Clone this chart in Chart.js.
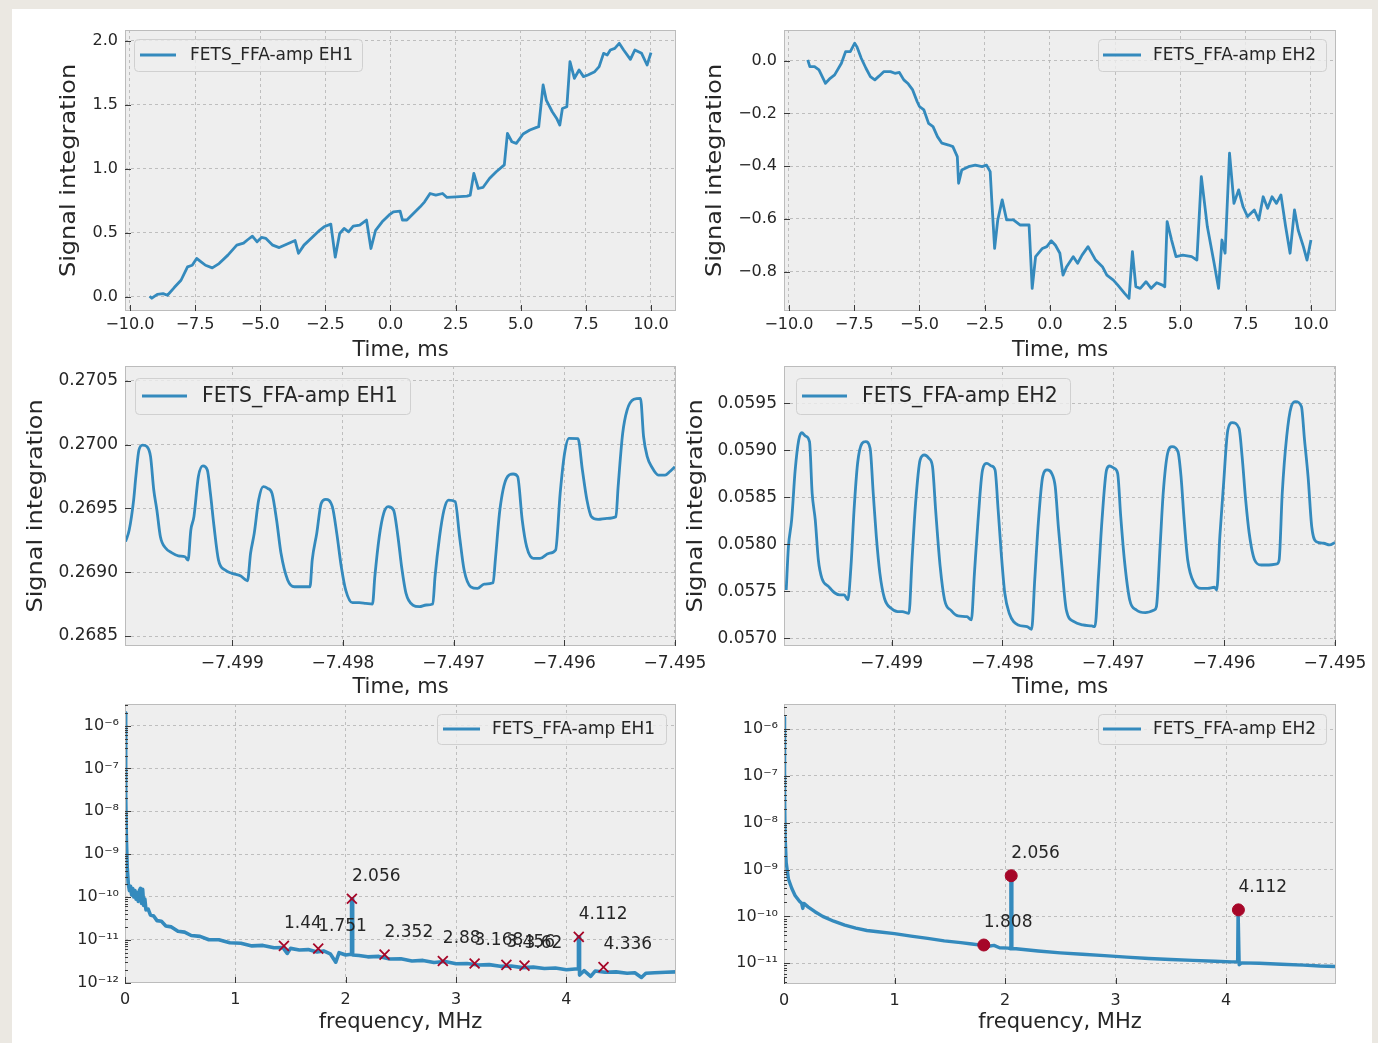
<!DOCTYPE html>
<html><head><meta charset="utf-8">
<script src="https://cdn.jsdelivr.net/npm/chart.js@4.4.1/dist/chart.umd.min.js"></script>
<style>
html,body{margin:0;padding:0;}
body{width:1378px;height:1043px;background:#ebe8e2;position:relative;overflow:hidden;}
#card{position:absolute;left:12px;top:9px;width:1360px;height:1040px;background:#ffffff;}
canvas{position:absolute;}
</style></head>
<body><div id="card"></div>
<canvas id="tl"></canvas><canvas id="tr"></canvas>
<canvas id="ml"></canvas><canvas id="mr"></canvas>
<canvas id="bl"></canvas><canvas id="br"></canvas>
<script>
// ---------------- DATA ----------------
const SERIES_EH1 = 'FETS_FFA-amp EH1';
const SERIES_EH2 = 'FETS_FFA-amp EH2';

// Top-left: integration, EH1 (time ms, signal)
const TL_TIME = [-9.245,-9.16,-8.95,-8.73,-8.56,-8.30,-8.04,-7.79,-7.61,-7.44,-7.27,-7.10,-6.84,-6.58,-6.24,-5.90,-5.64,-5.47,-5.30,-5.12,-4.95,-4.78,-4.52,-4.27,-3.92,-3.66,-3.53,-3.32,-2.98,-2.72,-2.55,-2.29,-2.12,-1.95,-1.78,-1.61,-1.43,-1.18,-0.92,-0.75,-0.57,-0.32,-0.06,0.11,0.37,0.46,0.63,0.88,1.14,1.31,1.52,1.74,2.00,2.17,2.52,2.94,3.06,3.20,3.37,3.55,3.80,4.06,4.37,4.49,4.66,4.83,5.09,5.35,5.61,5.69,5.86,5.98,6.21,6.38,6.50,6.60,6.77,6.89,7.06,7.24,7.41,7.58,7.84,8.01,8.18,8.32,8.44,8.61,8.78,8.95,9.21,9.38,9.64,9.85,10.0];
const TL_SIGNAL = [0.005,-0.01,0.02,0.026,0.013,0.073,0.13,0.234,0.247,0.30,0.273,0.247,0.227,0.26,0.326,0.404,0.42,0.448,0.474,0.43,0.464,0.456,0.404,0.385,0.417,0.44,0.34,0.404,0.469,0.52,0.547,0.568,0.31,0.495,0.534,0.508,0.552,0.56,0.60,0.378,0.52,0.586,0.638,0.664,0.669,0.60,0.60,0.651,0.703,0.742,0.807,0.794,0.807,0.776,0.78,0.786,0.794,0.964,0.846,0.854,0.924,0.977,1.03,1.276,1.211,1.198,1.271,1.302,1.323,1.328,1.654,1.536,1.445,1.393,1.341,1.47,1.484,1.836,1.706,1.771,1.719,1.732,1.758,1.797,1.901,1.888,1.927,1.94,1.979,1.927,1.854,1.927,1.901,1.81,1.906];

// Top-right: integration, EH2
const TR_TIME = [-9.28,-9.20,-9.02,-8.85,-8.60,-8.42,-8.25,-7.99,-7.83,-7.65,-7.48,-7.40,-7.23,-7.05,-6.88,-6.71,-6.54,-6.37,-6.11,-5.94,-5.77,-5.60,-5.43,-5.26,-5.09,-5.00,-4.83,-4.65,-4.48,-4.31,-4.14,-3.88,-3.72,-3.55,-3.50,-3.38,-3.12,-2.86,-2.60,-2.43,-2.29,-2.23,-2.12,-2.00,-1.83,-1.66,-1.40,-1.15,-0.80,-0.68,-0.55,-0.29,-0.12,0.05,0.21,0.38,0.50,0.64,0.89,1.06,1.23,1.46,1.75,2.01,2.18,2.43,2.60,2.86,3.03,3.16,3.29,3.46,3.68,3.88,4.09,4.31,4.40,4.49,4.66,4.83,5.09,5.43,5.63,5.80,6.03,6.28,6.46,6.59,6.71,6.88,7.05,7.23,7.40,7.57,7.83,8.00,8.17,8.34,8.51,8.68,8.85,9.03,9.20,9.37,9.51,9.71,9.85,10.0];
const TR_SIGNAL = [0.003,-0.023,-0.023,-0.035,-0.086,-0.067,-0.054,-0.01,0.034,0.034,0.066,0.053,0.009,-0.029,-0.061,-0.073,-0.058,-0.042,-0.042,-0.048,-0.045,-0.073,-0.088,-0.111,-0.155,-0.174,-0.187,-0.238,-0.25,-0.288,-0.313,-0.32,-0.326,-0.364,-0.465,-0.415,-0.402,-0.396,-0.402,-0.396,-0.421,-0.528,-0.712,-0.604,-0.528,-0.604,-0.604,-0.623,-0.623,-0.863,-0.743,-0.712,-0.705,-0.683,-0.70,-0.73,-0.813,-0.781,-0.743,-0.768,-0.737,-0.705,-0.756,-0.781,-0.813,-0.832,-0.851,-0.882,-0.901,-0.724,-0.857,-0.863,-0.838,-0.863,-0.842,-0.851,-0.857,-0.61,-0.68,-0.743,-0.737,-0.743,-0.756,-0.44,-0.629,-0.762,-0.863,-0.68,-0.73,-0.351,-0.541,-0.49,-0.554,-0.591,-0.566,-0.604,-0.516,-0.56,-0.516,-0.541,-0.509,-0.629,-0.73,-0.566,-0.642,-0.705,-0.756,-0.68];

// Middle-left: zoomed integration, EH1
const ML_TIME = [-7.499965,-7.499932,-7.499892,-7.499872,-7.499844,-7.499811,-7.499771,-7.499739,-7.499710,-7.499682,-7.499650,-7.499601,-7.499549,-7.499488,-7.499428,-7.499400,-7.499375,-7.499347,-7.499307,-7.499266,-7.499226,-7.499198,-7.499165,-7.499125,-7.499065,-7.499004,-7.498923,-7.498863,-7.498835,-7.498802,-7.498762,-7.498721,-7.498681,-7.498641,-7.498600,-7.498560,-7.498500,-7.498439,-7.498378,-7.498298,-7.498278,-7.498237,-7.498197,-7.498156,-7.498096,-7.498056,-7.498015,-7.497975,-7.497914,-7.497854,-7.497793,-7.497733,-7.497712,-7.497672,-7.497632,-7.497591,-7.497543,-7.497503,-7.497470,-7.497430,-7.497369,-7.497309,-7.497248,-7.497188,-7.497168,-7.497127,-7.497087,-7.497046,-7.496986,-7.496946,-7.496905,-7.496845,-7.496784,-7.496724,-7.496643,-7.496623,-7.496582,-7.496522,-7.496461,-7.496421,-7.496380,-7.496340,-7.496279,-7.496219,-7.496138,-7.496078,-7.496037,-7.495997,-7.495957,-7.495876,-7.495836,-7.495795,-7.495755,-7.495694,-7.495614,-7.495533,-7.495513,-7.495472,-7.495432,-7.495371,-7.495311,-7.495283,-7.495250,-7.495210,-7.495149,-7.495089,-7.495048,-7.495000];
const ML_SIGNAL = [0.269239,0.269330,0.269565,0.269748,0.269957,0.269996,0.269983,0.269905,0.269644,0.269487,0.269278,0.269187,0.269153,0.269127,0.269121,0.269095,0.269330,0.269435,0.269748,0.269832,0.269800,0.269617,0.269356,0.269095,0.269017,0.268991,0.268970,0.268933,0.269148,0.269304,0.269565,0.269670,0.269657,0.269617,0.269409,0.269148,0.268939,0.268886,0.268886,0.268886,0.269095,0.269304,0.269539,0.269570,0.269513,0.269304,0.269043,0.268860,0.268761,0.268761,0.268756,0.268751,0.268965,0.269278,0.269461,0.269513,0.269487,0.269278,0.269043,0.268834,0.268743,0.268730,0.268743,0.268751,0.268965,0.269278,0.269487,0.269565,0.269552,0.269278,0.269017,0.268886,0.268873,0.268907,0.268918,0.269095,0.269487,0.269735,0.269769,0.269748,0.269409,0.269200,0.269108,0.269108,0.269148,0.269174,0.269617,0.269931,0.270048,0.270046,0.269800,0.269565,0.269435,0.269414,0.269422,0.269435,0.269670,0.270087,0.270270,0.270354,0.270362,0.270061,0.269905,0.269826,0.269761,0.269761,0.269787,0.269826];

// Middle-right: zoomed integration, EH2
const MR_TIME = [-7.49995,-7.49993,-7.499901,-7.499869,-7.499837,-7.499809,-7.499777,-7.49974,-7.499716,-7.499688,-7.49966,-7.499628,-7.499567,-7.499507,-7.499467,-7.499427,-7.499394,-7.499366,-7.499338,-7.499306,-7.499266,-7.499233,-7.499193,-7.499165,-7.499137,-7.499105,-7.499064,-7.499004,-7.498944,-7.498903,-7.498843,-7.498815,-7.498783,-7.498742,-7.498702,-7.498662,-7.49863,-7.498602,-7.498561,-7.498521,-7.498461,-7.4984,-7.49832,-7.49828,-7.498252,-7.498219,-7.498179,-7.498139,-7.498099,-7.498066,-7.498038,-7.49801,-7.497978,-7.497938,-7.497857,-7.497777,-7.497736,-7.497708,-7.497676,-7.497636,-7.497596,-7.497555,-7.497523,-7.497495,-7.497463,-7.497423,-7.497354,-7.497274,-7.497193,-7.497165,-7.497133,-7.497101,-7.49706,-7.497032,-7.496992,-7.49696,-7.496932,-7.496899,-7.496851,-7.496791,-7.49671,-7.49663,-7.49661,-7.496577,-7.496549,-7.496509,-7.496469,-7.496416,-7.496388,-7.49636,-7.496328,-7.496268,-7.496207,-7.496147,-7.496087,-7.496066,-7.496038,-7.496006,-7.495966,-7.495926,-7.495865,-7.495837,-7.495805,-7.495773,-7.495724,-7.495664,-7.495596,-7.495523,-7.495503,-7.495475,-7.495435,-7.495394,-7.495354,-7.495302,-7.495274,-7.495242,-7.495209,-7.495169,-7.495101,-7.495048,-7.495];
const MR_SIGNAL = [0.057514,0.057975,0.058259,0.058791,0.059110,0.059188,0.059152,0.059092,0.058543,0.058259,0.057833,0.057638,0.057550,0.057479,0.057461,0.057461,0.057408,0.057762,0.058365,0.058862,0.059074,0.059092,0.059021,0.058543,0.058082,0.057691,0.057426,0.057319,0.057284,0.057284,0.057266,0.057833,0.058436,0.058897,0.058950,0.058915,0.058826,0.058365,0.057762,0.057408,0.057294,0.057238,0.057230,0.057195,0.057691,0.058259,0.058791,0.058862,0.058833,0.058791,0.058365,0.057904,0.057479,0.057266,0.057142,0.057124,0.057096,0.057621,0.058223,0.058720,0.058791,0.058755,0.058613,0.058188,0.057762,0.057301,0.057177,0.057142,0.057131,0.057124,0.057656,0.058259,0.058791,0.058833,0.058809,0.058755,0.058294,0.057833,0.057408,0.057301,0.057273,0.057301,0.057337,0.057975,0.058543,0.058968,0.059039,0.058986,0.058720,0.058259,0.057833,0.057585,0.057532,0.057532,0.057543,0.057514,0.058082,0.058613,0.059216,0.059294,0.059234,0.058933,0.058472,0.058117,0.057833,0.057780,0.057780,0.057791,0.057833,0.058543,0.059145,0.059465,0.059518,0.059465,0.059110,0.058720,0.058188,0.058028,0.058011,0.057993,0.058018];

// Bottom-left: spectrum, EH1 (frequency MHz, amplitude)
const BL_FREQ = [0.001,0.006,0.012,0.02,0.03,0.04,0.05,0.06,0.07,0.08,0.09,0.10,0.11,0.12,0.13,0.14,0.15,0.16,0.17,0.18,0.19,0.21,0.23,0.26,0.29,0.33,0.37,0.42,0.48,0.54,0.60,0.68,0.76,0.85,0.95,1.05,1.15,1.25,1.35,1.43,1.47,1.50,1.58,1.66,1.74,1.80,1.86,1.91,1.94,2.00,2.049,2.053,2.059,2.063,2.12,2.20,2.30,2.40,2.50,2.60,2.70,2.80,2.90,3.00,3.10,3.20,3.30,3.40,3.50,3.60,3.70,3.80,3.90,4.00,4.105,4.109,4.115,4.119,4.16,4.22,4.26,4.35,4.45,4.55,4.62,4.68,4.72,4.80,4.90,4.99];
const BL_AMP = [2.0e-6,2.5e-8,2.5e-9,5.0e-10,2.0e-10,1.41e-10,1.78e-10,1.12e-10,1.58e-10,1.0e-10,1.41e-10,8.9e-11,1.26e-10,7.9e-11,1.41e-10,1.58e-10,7.1e-11,1.51e-10,6.3e-11,8.9e-11,5.0e-11,5.2e-11,3.8e-11,3.6e-11,2.8e-11,2.7e-11,2.1e-11,2.0e-11,1.58e-11,1.51e-11,1.26e-11,1.2e-11,1.0e-11,1.0e-11,8.5e-12,8.3e-12,7.2e-12,7.4e-12,6.5e-12,6.6e-12,4.8e-12,6.3e-12,5.8e-12,5.9e-12,5.2e-12,5.5e-12,4.7e-12,3.0e-12,5.0e-12,4.4e-12,4.6e-12,9.1e-11,9.1e-11,4.4e-12,4.3e-12,4.0e-12,4.1e-12,3.55e-12,3.6e-12,3.2e-12,3.3e-12,2.95e-12,3.1e-12,2.75e-12,2.8e-12,2.57e-12,2.63e-12,2.4e-12,2.45e-12,2.24e-12,2.3e-12,2.14e-12,2.19e-12,2.0e-12,2.1e-12,1.17e-11,1.17e-11,1.5e-12,1.9e-12,1.4e-12,1.86e-12,1.74e-12,1.78e-12,1.66e-12,1.7e-12,1.32e-12,1.66e-12,1.7e-12,1.75e-12,1.78e-12];
const BL_PEAK_FREQ = [1.44,1.751,2.056,2.352,2.88,3.168,3.456,3.62,4.112,4.336];
const BL_PEAK_AMP = [7.2e-12,6.2e-12,9.1e-11,4.5e-12,3.2e-12,2.8e-12,2.6e-12,2.5e-12,1.17e-11,2.3e-12];
const BL_PEAK_LABELS = ['1.44','1.751','2.056','2.352','2.88','3.168','3.456','3.62','4.112','4.336'];

// Bottom-right: spectrum, EH2
const BR_FREQ = [0.001,0.005,0.01,0.02,0.04,0.07,0.10,0.14,0.16,0.17,0.18,0.22,0.28,0.35,0.45,0.55,0.65,0.75,0.85,1.00,1.15,1.30,1.45,1.60,1.70,1.80,1.85,1.90,1.95,2.03,2.050,2.053,2.059,2.062,2.10,2.30,2.50,2.70,2.90,3.10,3.30,3.50,3.70,3.90,4.05,4.105,4.109,4.115,4.119,4.14,4.30,4.50,4.70,4.85,4.99];
const BR_AMP = [1.78e-6,4.0e-8,5.0e-9,1.41e-9,6.3e-10,4.0e-10,2.8e-10,2.1e-10,1.9e-10,1.48e-10,1.9e-10,1.58e-10,1.26e-10,1.0e-10,7.9e-11,6.5e-11,5.6e-11,5.0e-11,4.7e-11,4.3e-11,3.8e-11,3.4e-11,3.0e-11,2.75e-11,2.57e-11,2.4e-11,2.3e-11,2.4e-11,2.14e-11,2.1e-11,2.04e-11,7.4e-10,7.4e-10,2.04e-11,2.04e-11,1.82e-11,1.66e-11,1.55e-11,1.45e-11,1.35e-11,1.26e-11,1.2e-11,1.15e-11,1.1e-11,1.07e-11,1.07e-11,1.38e-10,1.38e-10,9.3e-12,1.02e-11,1.0e-11,9.5e-12,9.1e-12,8.7e-12,8.5e-12];
const BR_PEAK_FREQ = [1.808,2.056,4.112];
const BR_PEAK_AMP = [2.45e-11,7.4e-10,1.38e-10];
const BR_PEAK_LABELS = ['1.808','2.056','4.112'];

// Tick values
const TIME_TICKS = [-10,-7.5,-5,-2.5,0,2.5,5,7.5,10];
const TL_YTICKS = [0,0.5,1.0,1.5,2.0];
const TR_YTICKS = [-0.8,-0.6,-0.4,-0.2,0];
const ZOOM_TIME_TICKS = [-7.499,-7.498,-7.497,-7.496,-7.495];
const ML_YTICKS = [0.2685,0.2690,0.2695,0.2700,0.2705];
const MR_YTICKS = [0.0570,0.0575,0.0580,0.0585,0.0590,0.0595];
const FREQ_TICKS = [0,1,2,3,4];
const BL_YTICKS = [1e-12,1e-11,1e-10,1e-9,1e-8,1e-7,1e-6];
const BR_YTICKS = [1e-11,1e-10,1e-9,1e-8,1e-7,1e-6];

// ---------------- STYLE / LAYOUT ----------------
const FAM = "'DejaVu Sans', sans-serif";
const LINE_COLOR = '#348ABD';
const MARK_COLOR = '#A60628';
const TEXT_COLOR = '#262626';

const SUP = {'-':'\u207B','0':'\u2070','1':'\u00B9','2':'\u00B2','3':'\u00B3','4':'\u2074','5':'\u2075','6':'\u2076','7':'\u2077','8':'\u2078','9':'\u2079'};
function fmtFixed(d){ return v => (v < -1e-12 ? '\u2212' : '') + Math.abs(v).toFixed(d); }
function fmtLog(v){ const e = Math.round(Math.log10(v)); return '10' + String(e).split('').map(ch => SUP[ch]).join(''); }
function fmtInt(v){ return String(Math.round(v)); }

function pairs(xs, ys){ const n = Math.min(xs.length, ys.length); const out=[]; for(let i=0;i<n;i++) out.push({x:xs[i], y:ys[i]}); return out; }

const PANELS = [
 { id:'tl', canvas:[0,0,715,365], area:[125,30,676,311],
   x:{min:-10.19,max:10.96,ticks:TIME_TICKS,fmt:fmtFixed(1),font:16,pad:4.5},
   y:{min:-0.11,max:2.083,ticks:TL_YTICKS,fmt:fmtFixed(1),font:16,pad:7},
   line:[TL_TIME,TL_SIGNAL], lw:2.8, smooth:false,
   yTitle:{text:'Signal integration',cx:70,size:24}, xTitle:{text:'Time, ms',base:356,size:21},
   legend:{text:SERIES_EH1,box:[134,39,362,71],line:[140,176],tx:190,size:17} },
 { id:'tr', canvas:[690,0,1378,365], area:[784,30,1336,311],
   x:{min:-10.19,max:10.96,ticks:TIME_TICKS,fmt:fmtFixed(1),font:16,pad:4.5},
   y:{min:-0.949,max:0.116,ticks:TR_YTICKS,fmt:fmtFixed(1),font:16,pad:7},
   line:[TR_TIME,TR_SIGNAL], lw:2.8, smooth:false,
   yTitle:{text:'Signal integration',cx:716,size:24}, xTitle:{text:'Time, ms',base:356,size:21},
   legend:{text:SERIES_EH2,box:[1098,39,1326,71],line:[1103,1141],tx:1153,size:17} },
 { id:'ml', canvas:[0,355,715,705], area:[125,366,676,646],
   x:{min:-7.49997,max:-7.49499,ticks:ZOOM_TIME_TICKS,fmt:fmtFixed(3),font:17,pad:7},
   y:{min:0.268422,max:0.270615,ticks:ML_YTICKS,fmt:fmtFixed(4),font:17,pad:7},
   line:[ML_TIME,ML_SIGNAL], lw:2.8, smooth:true,
   yTitle:{text:'Signal integration',cx:37,size:24}, xTitle:{text:'Time, ms',base:693,size:21},
   legend:{text:SERIES_EH1,box:[135,378,410,414],line:[142,187],tx:202,size:20.4} },
 { id:'mr', canvas:[672,355,1378,705], area:[784,366,1336,646],
   x:{min:-7.49997,max:-7.49499,ticks:ZOOM_TIME_TICKS,fmt:fmtFixed(3),font:17,pad:7},
   y:{min:0.056918,max:0.059897,ticks:MR_YTICKS,fmt:fmtFixed(4),font:17,pad:7},
   line:[MR_TIME,MR_SIGNAL], lw:2.8, smooth:true,
   yTitle:{text:'Signal integration',cx:697,size:24}, xTitle:{text:'Time, ms',base:693,size:21},
   legend:{text:SERIES_EH2,box:[796,378,1070,414],line:[802,847],tx:862,size:20.4} },
 { id:'bl', canvas:[0,695,715,1043], area:[125,704,676,983],
   x:{min:0,max:4.993,ticks:FREQ_TICKS,fmt:fmtInt,font:16,pad:7.5},
   y:{type:'logarithmic',min:9.8e-13,max:3.2e-6,ticks:BL_YTICKS,fmt:fmtLog,font:16,pad:6},
   line:[BL_FREQ,BL_AMP], lw:3.6, smooth:false,
   peaks:{x:BL_PEAK_FREQ,y:BL_PEAK_AMP,labels:BL_PEAK_LABELS,style:'crossRot'},
   xTitle:{text:'frequency, MHz',base:1028,size:21},
   legend:{text:SERIES_EH1,box:[437,714,666,744],line:[443,480],tx:492,size:17} },
 { id:'br', canvas:[680,695,1378,1043], area:[784,704,1336,984],
   x:{min:0,max:4.995,ticks:FREQ_TICKS,fmt:fmtInt,font:16,pad:7.5},
   y:{type:'logarithmic',min:3.6e-12,max:3.45e-6,ticks:BR_YTICKS,fmt:fmtLog,font:16,pad:6},
   line:[BR_FREQ,BR_AMP], lw:3.4, smooth:false,
   peaks:{x:BR_PEAK_FREQ,y:BR_PEAK_AMP,labels:BR_PEAK_LABELS,style:'circle'},
   xTitle:{text:'frequency, MHz',base:1028,size:21},
   legend:{text:SERIES_EH2,box:[1098,714,1326,744],line:[1103,1141],tx:1153,size:17} }
];

function roundRect(c,x,y,w,h,r){ c.beginPath(); c.moveTo(x+r,y); c.lineTo(x+w-r,y); c.quadraticCurveTo(x+w,y,x+w,y+r); c.lineTo(x+w,y+h-r); c.quadraticCurveTo(x+w,y+h,x+w-r,y+h); c.lineTo(x+r,y+h); c.quadraticCurveTo(x,y+h,x,y+h-r); c.lineTo(x,y+r); c.quadraticCurveTo(x,y,x+r,y); c.closePath(); }

function makeDeco(p){
  const ox = p.canvas[0], oy = p.canvas[1];
  return {
    id:'deco_'+p.id,
    beforeDraw(chart){
      const a = chart.chartArea, c = chart.ctx;
      c.save(); c.fillStyle = '#eeeeee'; c.fillRect(a.left, a.top, a.right-a.left, a.bottom-a.top); c.restore();
    },
    afterDraw(chart){
      const a = chart.chartArea, c = chart.ctx, sx = chart.scales.x, sy = chart.scales.y;
      c.save();
      // frame
      c.strokeStyle = '#bcbcbc'; c.lineWidth = 1;
      c.strokeRect(a.left+0.5, a.top+0.5, a.right-a.left-1, a.bottom-a.top-1);
      // inward tick marks
      c.strokeStyle = '#3a3a3a'; c.lineWidth = 1; c.beginPath();
      sx.ticks.forEach(t => { const px = Math.round(sx.getPixelForValue(t.value))+0.5; c.moveTo(px, a.bottom); c.lineTo(px, a.bottom-6); });
      sy.ticks.forEach(t => { const py = Math.round(sy.getPixelForValue(t.value))+0.5; c.moveTo(a.left, py); c.lineTo(a.left+6, py); });
      if (p.y.type === 'logarithmic') {
        const e0 = Math.floor(Math.log10(p.y.min)), e1 = Math.ceil(Math.log10(p.y.max));
        for (let e=e0; e<=e1; e++) for (let k=2; k<=9; k++) {
          const v = k*Math.pow(10,e); if (v < p.y.min || v > p.y.max) continue;
          const py = Math.round(sy.getPixelForValue(v))+0.5; c.moveTo(a.left, py); c.lineTo(a.left+3, py);
        }
      }
      c.stroke();
      // peak labels
      if (p.peaks) {
        c.fillStyle = TEXT_COLOR; c.font = '17px '+FAM; c.textAlign = 'left'; c.textBaseline = 'alphabetic';
        p.peaks.labels.forEach((lab,i) => {
          const px = sx.getPixelForValue(p.peaks.x[i]), py = sy.getPixelForValue(p.peaks.y[i]);
          c.fillText(lab, px, py-18);
        });
      }
      // legend
      const L = p.legend;
      const bx = L.box[0]-ox, by = L.box[1]-oy, bw = L.box[2]-L.box[0], bh = L.box[3]-L.box[1];
      roundRect(c, bx+0.5, by+0.5, bw, bh, 4);
      c.fillStyle = 'rgba(238,238,238,0.8)'; c.fill();
      c.strokeStyle = '#d0d0d0'; c.lineWidth = 1; c.stroke();
      const cy = by + bh/2;
      c.strokeStyle = LINE_COLOR; c.lineWidth = 2.8; c.beginPath(); c.moveTo(L.line[0]-ox, cy); c.lineTo(L.line[1]-ox, cy); c.stroke();
      c.fillStyle = TEXT_COLOR; c.font = L.size+'px '+FAM; c.textAlign = 'left'; c.textBaseline = 'middle';
      c.fillText(L.text, L.tx-ox, cy+1);
      // axis titles
      if (p.xTitle) {
        c.font = p.xTitle.size+'px '+FAM; c.textAlign = 'center'; c.textBaseline = 'alphabetic';
        c.fillText(p.xTitle.text, (a.left+a.right)/2, p.xTitle.base-oy);
      }
      if (p.yTitle) {
        c.translate(p.yTitle.cx-ox, (a.top+a.bottom)/2); c.rotate(-Math.PI/2); c.scale(1,0.85);
        c.font = p.yTitle.size+'px '+FAM; c.textAlign = 'center'; c.textBaseline = 'middle';
        c.fillText(p.yTitle.text, 0, 0);
      }
      c.restore();
    }
  };
}

function axis(spec, size, horizontal){
  return {
    type: spec.type || 'linear', min: spec.min, max: spec.max,
    afterBuildTicks: s => { s.ticks = spec.ticks.map(v => ({value:v})); },
    afterFit: s => { if (horizontal) s.height = size; else s.width = size; s.paddingLeft = 0; s.paddingRight = 0; s.paddingTop = 0; s.paddingBottom = 0; },
    grid: { color:'#b2b2b2', lineWidth:0.8, drawTicks:false },
    border: { display:false, dash:[3,3] },
    ticks: { autoSkip:false, maxRotation:0, minRotation:0, padding: spec.pad, color: TEXT_COLOR,
             font:{ family:FAM, size: spec.font }, callback: v => spec.fmt(v) }
  };
}

PANELS.forEach(p => {
  const cv = document.getElementById(p.id);
  const [x0,y0,x1,y1] = p.canvas, [l,t,r,b] = p.area;
  cv.width = x1-x0; cv.height = y1-y0;
  cv.style.left = x0+'px'; cv.style.top = y0+'px';
  cv.style.width = (x1-x0)+'px'; cv.style.height = (y1-y0)+'px';
  const datasets = [];
  if (p.peaks) {
    const circ = p.peaks.style === 'circle';
    datasets.push({ data: pairs(p.peaks.x, p.peaks.y), showLine:false, order:0,
      pointStyle: p.peaks.style, pointRadius: circ ? 6 : 7, pointHoverRadius: circ ? 6 : 7,
      pointBorderColor: MARK_COLOR, pointBackgroundColor: MARK_COLOR, pointBorderWidth: circ ? 1 : 1.8 });
  }
  const ds = { data: pairs(p.line[0], p.line[1]), order:1, borderColor: LINE_COLOR, borderWidth: p.lw,
    pointRadius:0, tension:0, fill:false, borderJoinStyle:'round' };
  if (p.smooth) ds.cubicInterpolationMode = 'monotone';
  datasets.push(ds);
  new Chart(cv.getContext('2d'), {
    type:'line',
    data:{ datasets },
    options:{
      responsive:false, animation:false, devicePixelRatio:1,
      layout:{ padding:{ left:0, top: t-y0, right: x1-r, bottom:0 } },
      plugins:{ legend:{display:false}, tooltip:{enabled:false} },
      events: [],
      scales:{ x: axis(p.x, y1-b, true), y: axis(p.y, l-x0, false) }
    },
    plugins:[ makeDeco(p) ]
  });
});
</script>
</body></html>
